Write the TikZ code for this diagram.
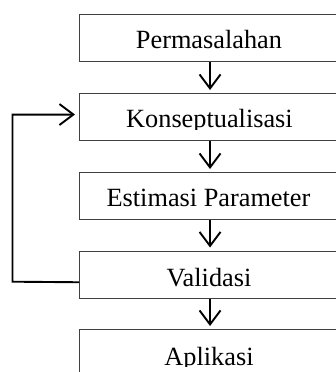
\documentclass[tikz,border=0pt]{standalone}
\usepackage{fontspec}
\setmainfont{Liberation Serif}
\usetikzlibrary{arrows.meta,calc}
\begin{document}
\begin{tikzpicture}[x=1pt,y=-1pt,
  box/.style={draw=black!75, line width=1.1pt, rectangle, minimum width=261pt, minimum height=47pt, inner sep=0pt, anchor=north west},
  lbl/.style={anchor=base, inner sep=0pt, font=\fontsize{26.3}{30}\selectfont},
  flow/.style={line width=1.6pt, -{Straight Barb[length=14pt,width=21pt,line width=1.9pt]}, shorten >=3pt},
  back/.style={line width=1.9pt, line join=miter, -{Straight Barb[length=14pt,width=21pt,line width=1.9pt]}, shorten >=4pt}]
\useasboundingbox (0,0) rectangle (335,372);
\node[box] (b1) at (79,14) {};
\node[box] (b2) at (79,93) {};
\node[box] (b3) at (79,172) {};
\node[box] (b4) at (79,250.5) {};
\node[box] (b5) at (79,329) {};
\begin{scope}\clip (79,14) rectangle (340,50);
\node[lbl] (t1) at (209,48.5) {Permasalahan};\end{scope}
\begin{scope}\clip (79,93) rectangle (340,129.5);
\node[lbl] (t2) at (209.5,127.7) {Konseptualisasi};\end{scope}
\begin{scope}\clip (79,172) rectangle (340,208.5);
\node[lbl] (t3) at (208.5,206.7) {Estimasi Parameter};\end{scope}
\begin{scope}\clip (79,250.5) rectangle (340,287.5);
\node[lbl] (t4) at (209,286) {Validasi};\end{scope}
\begin{scope}\clip (79,329) rectangle (340,366.5);
\node[lbl] (t5) at (209,365) {Aplikasi};\end{scope}
\draw[flow] (b1.south) -- (b2.north);
\draw[flow] (b2.south) -- (b3.north);
\draw[flow] (b3.south) -- (b4.north);
\draw[flow] (b4.south) -- (b5.north);
\coordinate (fa) at ($(b4.west)+(0,7.7)$);
\coordinate (fb) at ($(b2.west)+(0,-2.5)$);
\coordinate (fc) at (12.5,281.7);
\draw[back] (fa) -- (fc) |- (fb);
\end{tikzpicture}
\end{document}
